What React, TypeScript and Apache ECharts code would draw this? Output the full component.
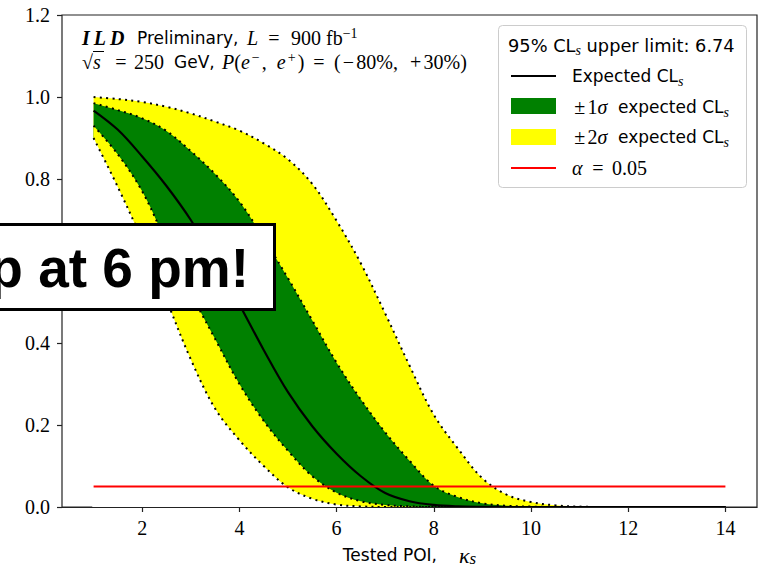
import React, { useEffect, useRef } from "react";
import * as echarts from "echarts";

// ---- data ----
const kappa = [1, 1.5, 2, 2.5, 3, 3.5, 4, 4.5, 5, 5.5, 6, 6.5, 7, 7.5, 8, 8.5, 9, 9.5, 10, 10.5, 11, 11.5, 12, 12.5, 13, 13.5, 14];
const expectedCLs = [0.967, 0.92, 0.855, 0.783, 0.7, 0.6, 0.494, 0.383, 0.28, 0.197, 0.13, 0.075, 0.034, 0.014, 0.005, 0.0015, 0.0004, 0, 0, 0, 0, 0, 0, 0, 0, 0, 0];
const plus1Sigma = [0.985, 0.968, 0.948, 0.917, 0.868, 0.812, 0.745, 0.655, 0.558, 0.455, 0.352, 0.262, 0.182, 0.113, 0.052, 0.024, 0.009, 0.003, 0.001, 0, 0, 0, 0, 0, 0, 0, 0];
const minus1Sigma = [0.93, 0.86, 0.77, 0.645, 0.522, 0.41, 0.3, 0.21, 0.137, 0.075, 0.035, 0.014, 0.005, 0.0015, 0, 0, 0, 0, 0, 0, 0, 0, 0, 0, 0, 0, 0];
const plus2Sigma = [1.0, 0.995, 0.988, 0.976, 0.96, 0.94, 0.918, 0.887, 0.848, 0.788, 0.698, 0.594, 0.472, 0.345, 0.225, 0.142, 0.07, 0.03, 0.012, 0.004, 0.001, 0, 0, 0, 0, 0, 0];
const minus2Sigma = [0.9, 0.78, 0.65, 0.505, 0.36, 0.24, 0.163, 0.1, 0.048, 0.02, 0.006, 0.0015, 0, 0, 0, 0, 0, 0, 0, 0, 0, 0, 0, 0, 0, 0, 0];
const alphaX = [1, 14];
const alphaLevel = 0.05;
const xTickValues = [2, 4, 6, 8, 10, 12, 14];
const upperLimit = "6.74";
const overlayText = "p at 6 pm!";

const SANS = "DejaVu Sans";
const SERIF = "Liberation Serif";
const YELLOW = "#ffff00";
const GREEN = "#008000";
const RED = "#ff0000";

function tok(family: string, size: number, extra: any = {}) {
  const style = extra.fontStyle || "normal";
  const weight = extra.fontWeight || "normal";
  return {
    fontFamily: family,
    fontSize: size,
    fontStyle: style,
    fontWeight: weight,
    font: `${style} ${weight} ${size}px "${family}"`,
    lineHeight: 24,
    verticalAlign: "middle",
    fill: "#000",
    color: "#000",
    ...extra,
  };
}

const richStyles: any = {
  s: tok(SANS, 17),
  st: tok(SANS, 17.8),
  m: tok(SERIF, 20),
  mi: tok(SERIF, 20, { fontStyle: "italic" }),
  mk: tok(SERIF, 22, { fontStyle: "italic" }),
  bi: tok(SERIF, 20, { fontStyle: "italic", fontWeight: "bold" }),
  opw: tok(SERIF, 20, { width: 15.6, align: "center" }),
  sub: tok(SERIF, 14, { fontStyle: "italic", lineHeight: 14, verticalAlign: "bottom" }),
  subk: tok(SERIF, 17, { fontStyle: "italic", lineHeight: 16, verticalAlign: "bottom" }),
  sup: tok(SERIF, 14, { lineHeight: 14, verticalAlign: "top" }),
  supw: tok(SERIF, 14, { lineHeight: 14, verticalAlign: "top", width: 12, align: "center" }),
  gap: { width: 22, lineHeight: 24 },
};

function pairs(ys: number[]) {
  return kappa.map((x, i) => [x, ys[i]]);
}

function textEl(x: number, y: number, text: string, z = 20) {
  return {
    type: "text",
    x,
    y,
    z,
    silent: true,
    style: {
      text,
      rich: richStyles,
      align: "left",
      verticalAlign: "middle",
      textAlign: "left",
      textVerticalAlign: "middle",
    },
  };
}

export default function App() {
  const ref = useRef<HTMLDivElement>(null);
  useEffect(() => {
    if (!ref.current) return;
    const chart = echarts.init(ref.current, undefined, { renderer: "svg" });
    const smooth = 0.35;
    const dotted = (name: string, ys: number[]) => ({
      name,
      type: "line",
      data: pairs(ys),
      symbol: "none",
      smooth,
      silent: true,
      z: 5,
      lineStyle: { color: "#000", width: 2, type: [2, 4.3] },
    });
    const area = (name: string, ys: number[], color: string, extra: any = {}) => ({
      name,
      type: "line",
      data: pairs(ys),
      symbol: "none",
      smooth,
      silent: true,
      z: 2,
      lineStyle: { width: 0, opacity: 0 },
      areaStyle: { color, opacity: 1 },
      ...extra,
    });
    const option: any = {
      animation: false,
      grid: {
        left: 62,
        right: 8,
        top: 15,
        bottom: 61,
        containLabel: false,
        outerBoundsMode: "none",
        show: true,
        borderColor: "#222",
        borderWidth: 1.2,
        backgroundColor: "transparent",
      },
      xAxis: {
        type: "value",
        min: 0.35,
        max: 14.65,
        z: 10,
        splitLine: { show: false },
        axisLine: { show: true, onZero: false, lineStyle: { color: "#222", width: 1.2 } },
        axisTick: { show: true, inside: false, length: 5, customValues: xTickValues, lineStyle: { color: "#222", width: 1.2 } },
        axisLabel: { customValues: xTickValues, fontFamily: SERIF, fontSize: 20, color: "#000", margin: 11 },
        name: "{s|Tested POI,}{gap|}{mk|κ}{subk|s}",
        nameLocation: "middle",
        nameGap: 36,
        nameTextStyle: { fontFamily: SANS, fontSize: 17, color: "#000", rich: richStyles },
      },
      yAxis: {
        type: "value",
        min: 0,
        max: 1.2,
        interval: 0.2,
        z: 10,
        splitLine: { show: false },
        axisLine: { show: false },
        axisTick: { show: true, length: 5, lineStyle: { color: "#222", width: 1.2 } },
        axisLabel: { fontFamily: SERIF, fontSize: 20, color: "#000", margin: 12, formatter: (v: number) => v.toFixed(1) },
      },
      series: [
        area("plus2", plus2Sigma, YELLOW),
        area("plus1", plus1Sigma, GREEN),
        area("minus1", minus1Sigma, YELLOW),
        area("minus2", minus2Sigma, "#ffffff", {
          markLine: {
            silent: true,
            symbol: "none",
            animation: false,
            z: 3,
            label: { show: false },
            lineStyle: { color: "#ffffff", width: 2.5, type: "solid" },
            data: [[{ coord: [kappa[0], 0] }, { coord: [kappa[0], minus2Sigma[0] - 0.004] }]],
          },
        }),
        dotted("m2", minus2Sigma),
        dotted("m1", minus1Sigma),
        dotted("p1", plus1Sigma),
        dotted("p2", plus2Sigma),
        {
          name: "Expected",
          type: "line",
          data: pairs(expectedCLs),
          symbol: "none",
          smooth,
          silent: true,
          z: 6,
          lineStyle: { color: "#000", width: 2.2 },
        },
        {
          name: "alpha",
          type: "line",
          data: alphaX.map((x) => [x, alphaLevel]),
          symbol: "none",
          silent: true,
          z: 7,
          lineStyle: { color: RED, width: 2.2 },
        },
      ],
      graphic: [
        // annotation, line 1
        textEl(82, 38, "{bi|I\u2009L\u2009D}"),
        textEl(137, 38, "{s|Preliminary,}"),
        textEl(247, 38, "{mi|L}"),
        textEl(266, 38, "{opw|=}"),
        textEl(291, 38, "{m|900 fb}{sup|−1}"),
        // annotation, line 2
        textEl(82, 62, "{m|√}{mi|s}"),
        { type: "line", z: 20, silent: true, shape: { x1: 93, y1: 51.5, x2: 104, y2: 51.5 }, style: { stroke: "#000", lineWidth: 1 } },
        textEl(113, 62, "{opw|=}"),
        textEl(134, 62, "{m|250}"),
        textEl(174, 62, "{s|GeV,}"),
        textEl(222, 62, "{mi|P}{m|(}{mi|e}{supw|−}{m|,  }{mi|e}{supw|+}{m|)}"),
        textEl(311, 62, "{opw|=}"),
        textEl(334, 62, "{m|(}{opw|−}{m|80%,  }{opw|+}{m|30%)}"),
        // legend
        {
          type: "rect",
          z: 15,
          silent: true,
          shape: { x: 498.5, y: 25.5, width: 248, height: 162, r: 4 },
          style: { fill: "rgba(255,255,255,0.85)", stroke: "#cccccc", lineWidth: 1 },
        },
        textEl(508, 45, `{st|95% CL}{sub|s}{st| upper limit: ${upperLimit}}`),
        { type: "line", z: 20, silent: true, shape: { x1: 511, y1: 76, x2: 556, y2: 76 }, style: { stroke: "#000", lineWidth: 2.2 } },
        textEl(572, 76, "{s|Expected CL}{sub|s}"),
        { type: "rect", z: 20, silent: true, shape: { x: 511, y: 98, width: 45, height: 16 }, style: { fill: GREEN } },
        textEl(572, 107, "{opw|±}{m|1}{mi|σ}"),
        textEl(618, 107, "{s|expected CL}{sub|s}"),
        { type: "rect", z: 20, silent: true, shape: { x: 511, y: 129, width: 45, height: 16 }, style: { fill: YELLOW } },
        textEl(572, 137, "{opw|±}{m|2}{mi|σ}"),
        textEl(618, 137, "{s|expected CL}{sub|s}"),
        { type: "line", z: 20, silent: true, shape: { x1: 511, y1: 168, x2: 556, y2: 168 }, style: { stroke: RED, lineWidth: 2.2 } },
        textEl(572, 168, "{mi|α}"),
        textEl(590, 168, "{opw|=}"),
        textEl(612, 168, "{m|0.05}"),
        // overlay note
        {
          type: "rect",
          z: 100,
          silent: true,
          shape: { x: -10, y: 224.5, width: 284.5, height: 85 },
          style: { fill: "#ffffff", stroke: "#000", lineWidth: 3 },
        },
        {
          type: "text",
          z: 101,
          silent: true,
          x: 249,
          y: 268,
          style: {
            text: overlayText,
            fontFamily: "Liberation Sans",
            fontWeight: "bold",
            fontSize: 55,
            fill: "#000",
            align: "right",
            verticalAlign: "middle",
            textAlign: "right",
            textVerticalAlign: "middle",
          },
        },
      ],
    };
    chart.setOption(option);
    return () => chart.dispose();
  }, []);
  return <div ref={ref} style={{ width: 765, height: 568, position: "absolute", left: 0, top: 0 }} />;
}
